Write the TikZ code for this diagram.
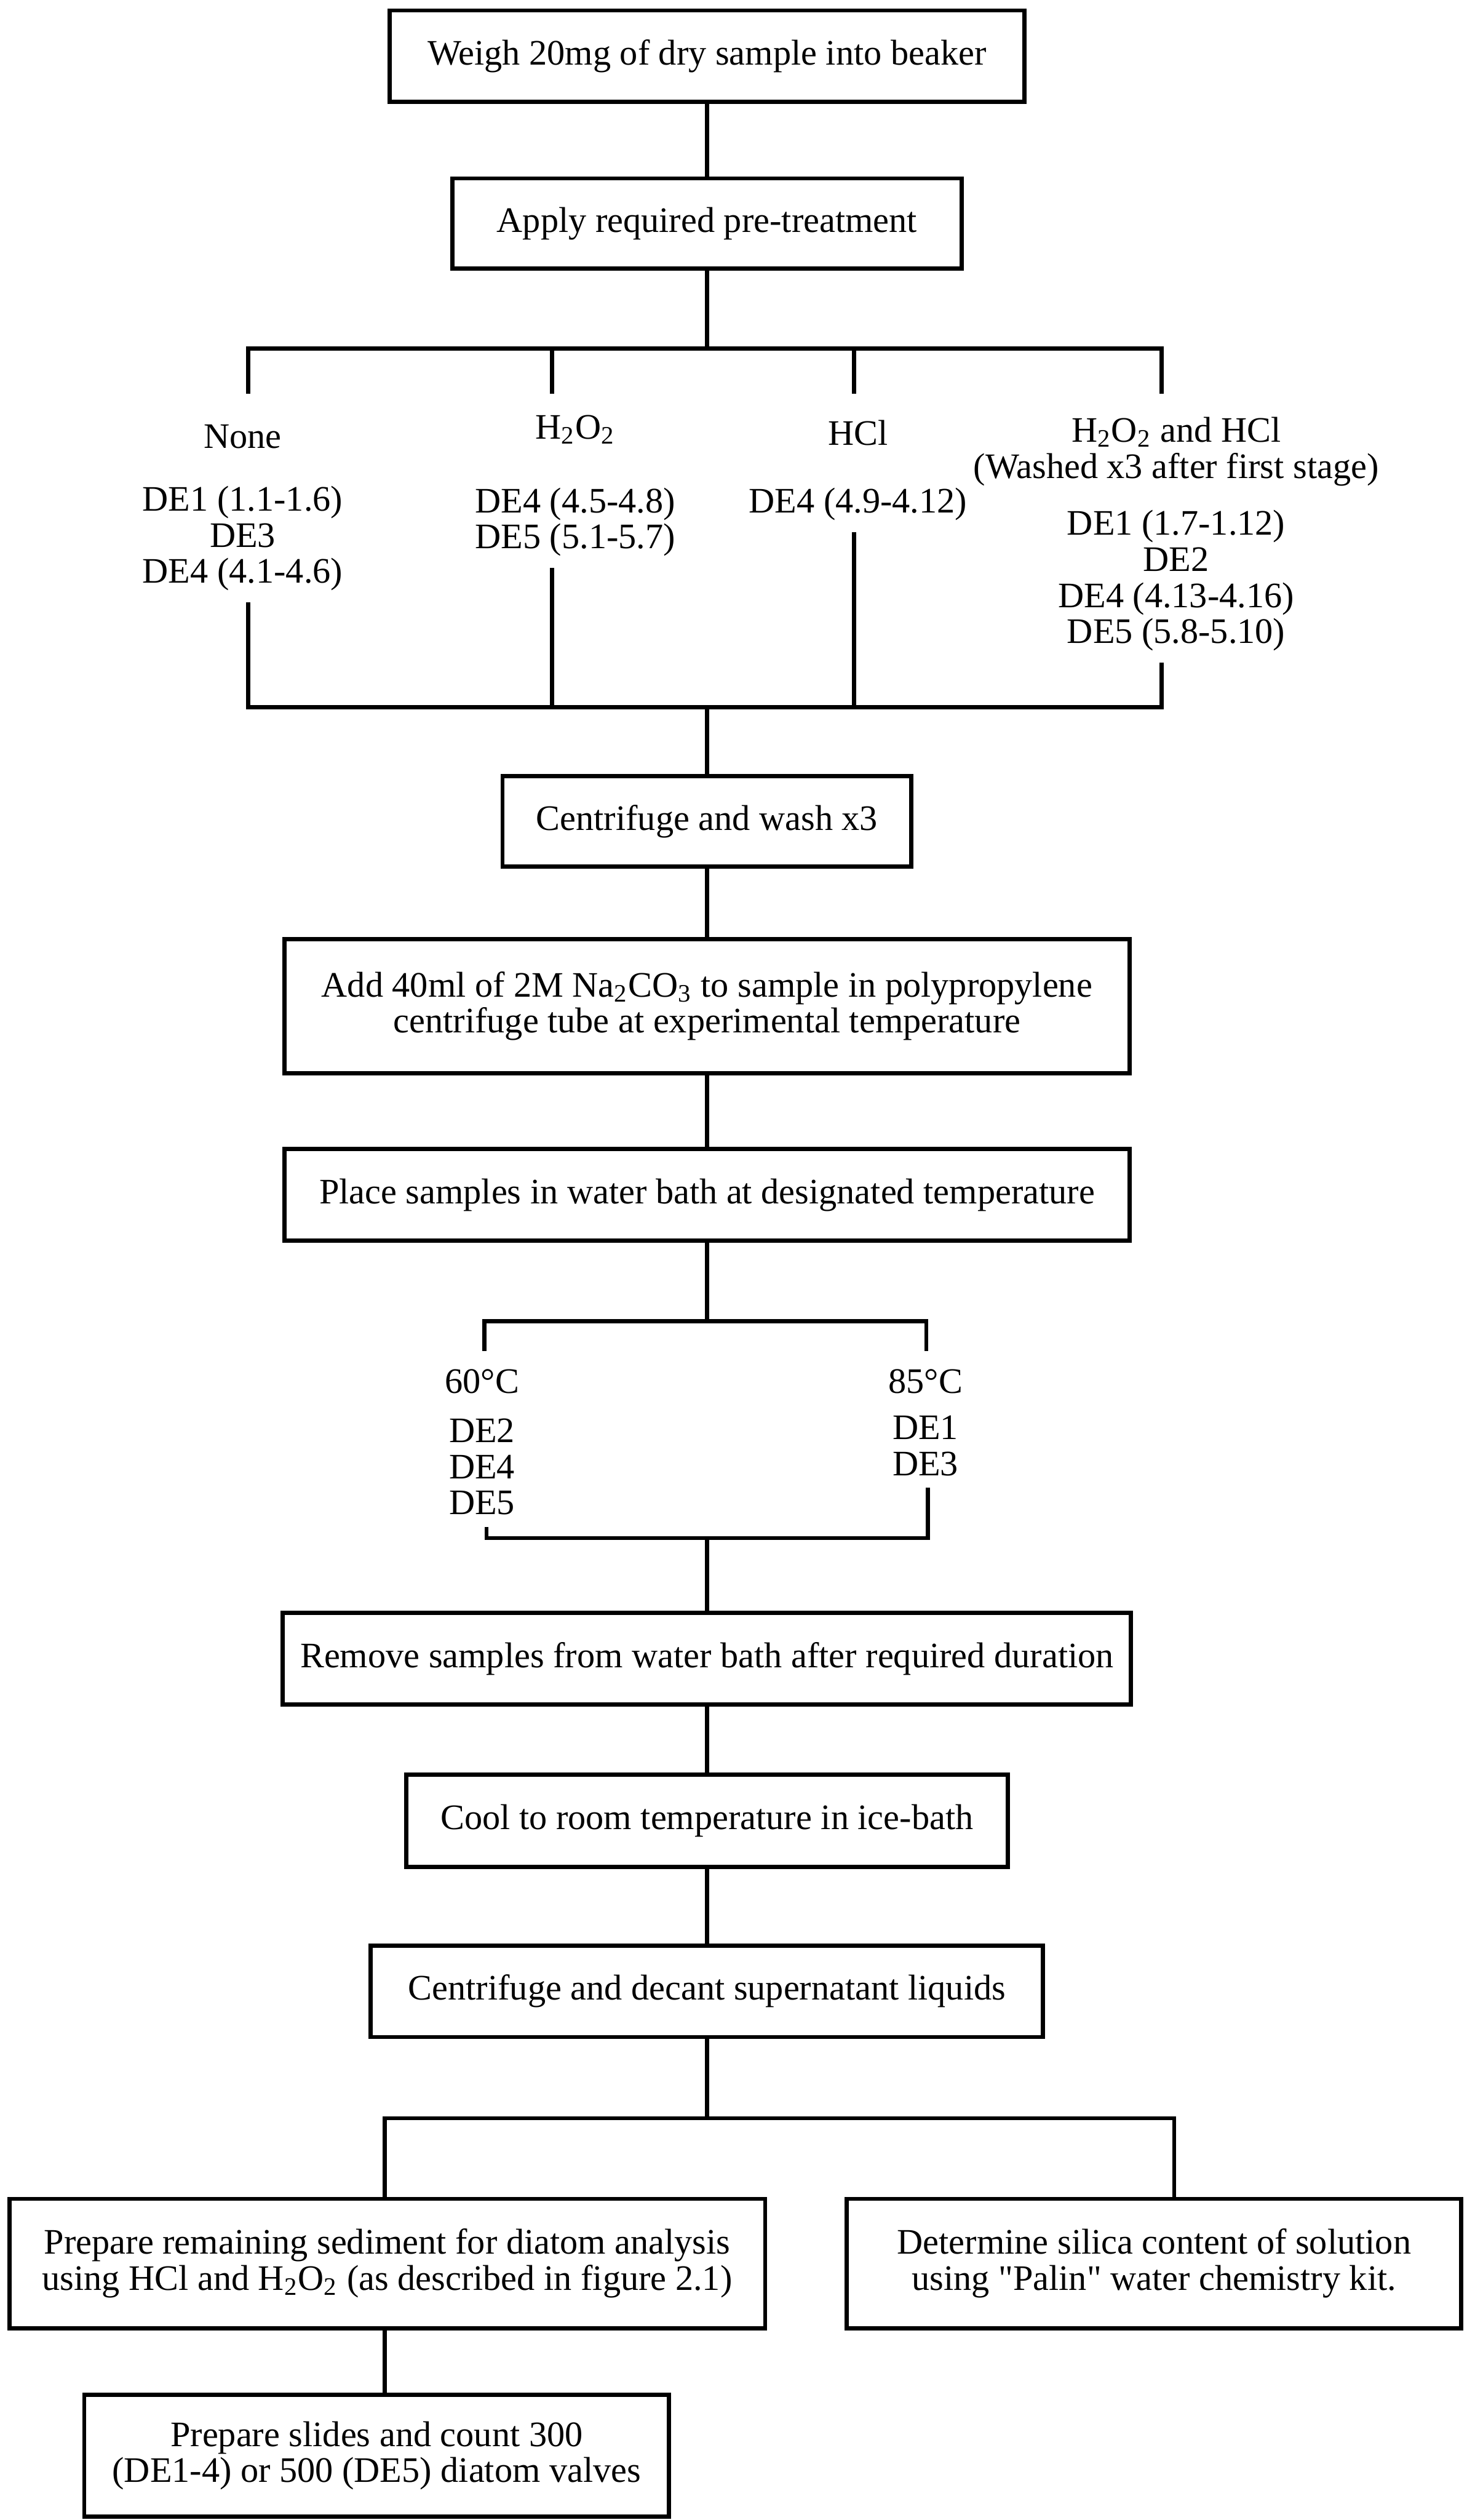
\documentclass[tikz,border=0pt]{standalone}
\usepackage{fontspec}
\newfontfamily\boxfont{Liberation Serif}
\usetikzlibrary{positioning}

\begin{document}
\begin{tikzpicture}[
		x=0.02cm, y=-0.02cm,
		line width=1.5pt,
		stepbox/.style={
			draw,
			inner sep=0pt,
			align=center,
			font=\boxfont\fontsize{12.7}{12.8}\selectfont
		},
		branchlabel/.style={
			inner xsep=0pt,
			inner ysep=0.12cm,
			anchor=north,
			align=center,
			font=\boxfont\fontsize{12.7}{12.8}\selectfont
		}
		]
		
		\useasboundingbox (0,0) rectangle (913,1568);
		
		\node[stepbox, minimum width=7.9cm, minimum height=1.14cm] (weigh) at (440,35) {Weigh 20mg of dry sample into beaker};
		
		\node[stepbox, minimum width=6.34cm, minimum height=1.12cm] (pretreat) at (440,139) {Apply required pre-treatment};
		
		\node[branchlabel] (none) at (151,256) {\strut None\\[9.3pt]DE1 (1.1-1.6)\\DE3\\DE4 (4.1-4.6)};
		
		\node[branchlabel] (hperox) at (358,250) {\strut H\textsubscript{2}O\textsubscript{2}\\[13.3pt]DE4 (4.5-4.8)\\DE5 (5.1-5.7)};
		
		\node[branchlabel] (hcl) at (534,254) {\strut HCl\\[11.2pt]DE4 (4.9-4.12)};
		
		\node[branchlabel] (both) at (732,252) {\strut H\textsubscript{2}O\textsubscript{2} and HCl\\(Washed x3 after first stage)\\[7.3pt]DE1 (1.7-1.12)\\DE2\\DE4 (4.13-4.16)\\DE5 (5.8-5.10)};
		
		\node[stepbox, minimum width=5.09cm, minimum height=1.13cm] (wash) at (440,511) {Centrifuge and wash x3};
		
		\node[stepbox, minimum width=10.52cm, minimum height=1.67cm] (add) at (440,626) {Add 40ml of 2M Na\textsubscript{2}CO\textsubscript{3} to sample in polypropylene\\centrifuge tube at experimental temperature};
		
		\node[stepbox, minimum width=10.52cm, minimum height=1.14cm] (place) at (440,743.5) {Place samples in water bath at designated temperature};
		
		\node[branchlabel] (low) at (300,844) {\strut 60°C\\[4.5pt]DE2\\DE4\\DE5};
		
		\node[branchlabel] (high) at (576,844) {\strut 85°C\\[3.4pt]DE1\\DE3};
		
		\node[stepbox, minimum width=10.56cm, minimum height=1.14cm] (remove) at (440,1032) {Remove samples from water bath after required duration};
		
		\node[stepbox, minimum width=7.49cm, minimum height=1.15cm] (cool) at (440,1133) {Cool to room temperature in ice-bath};
		
		\node[stepbox, minimum width=8.37cm, minimum height=1.14cm] (decant) at (440,1239) {Centrifuge and decant supernatant liquids};
		
		\node[stepbox, minimum width=9.41cm, minimum height=1.61cm] (sediment) at (241,1408.4) {Prepare remaining sediment for diatom analysis\\using HCl and H\textsubscript{2}O\textsubscript{2} (as described in figure 2.1)};
		
		\node[stepbox, minimum width=7.65cm, minimum height=1.61cm] (silica) at (718.3,1408.4) {Determine silica content of solution\\using "Palin" water chemistry kit.};
		
		\node[stepbox, minimum width=7.28cm, minimum height=1.52cm] (slides) at (234.4,1528) {Prepare slides and count 300\\(DE1-4) or 500 (DE5) diatom valves};
		
		\coordinate (prA) at (154.5,217);
		\coordinate (prB) at (343.6,217);
		\coordinate (prC) at (531.6,217);
		\coordinate (prD) at (723,217);
		\coordinate (jnA) at (154.5,440);
		\coordinate (jnB) at (343.6,440);
		\coordinate (jnC) at (531.6,440);
		\coordinate (jnD) at (723,440);
		\coordinate (tpA) at (301.6,822);
		\coordinate (tpD) at (576.5,822);
		\coordinate (tjA) at (302.8,957);
		\coordinate (tjD) at (577.6,957);
		\coordinate (spA) at (239.3,1318);
		\coordinate (spD) at (730.8,1318);
		
		\draw (weigh)--(pretreat);
		\draw (pretreat)--(pretreat |- prA);
		\draw (prA) ++(0,28) -- (prA) -- (prD) -- ++(0,28);
		\draw (prB) -- ++(0,28);
		\draw (prC) -- ++(0,28);
		\draw (none.south -| jnA) -- (jnA) -- (jnD) -- (both.south -| jnD);
		\draw (hperox.south -| jnB) -- (jnB);
		\draw (hcl.south -| jnC) -- (jnC);
		\draw (wash)--(wash |- jnA);
		\draw (wash)--(add);
		\draw (add)--(place);
		\draw (place)--(place |- tpA);
		\draw (tpA) ++(0,18.5) -- (tpA) -- (tpD) -- ++(0,18.5);
		\draw (low.south -| tjA) -- (tjA) -- (tjD) -- (high.south -| tjD);
		\draw (remove)--(remove |- tjA);
		\draw (remove)--(cool);
		\draw (cool)--(decant);
		\draw (decant)--(decant |- spA);
		\draw (sediment.north -| spA) -- (spA) -- (spD) -- (silica.north -| spD);
		\draw (sediment.south -| spA) -- (slides.north -| spA);
		
	\end{tikzpicture}
\end{document}
